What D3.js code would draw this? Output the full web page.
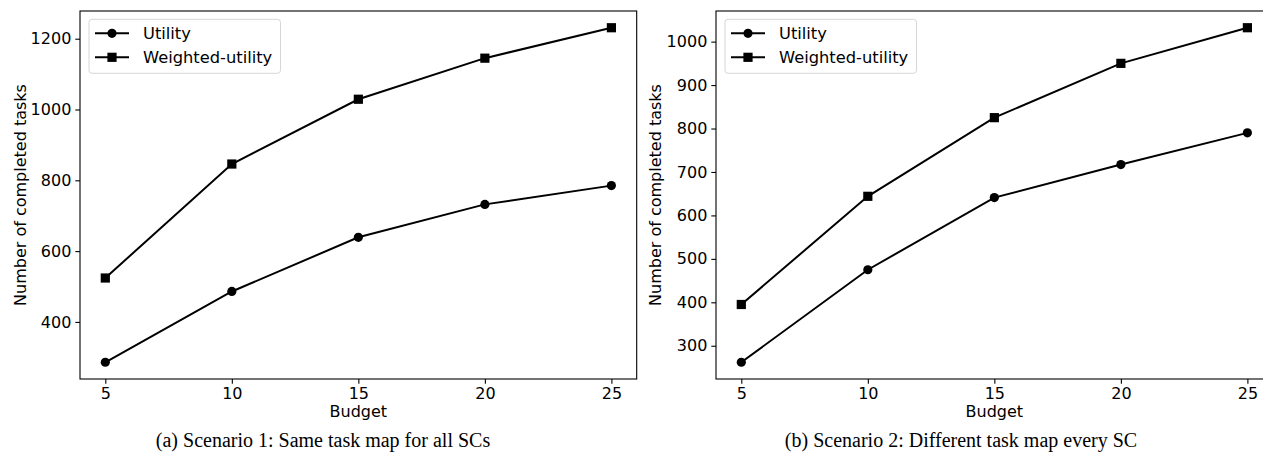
<!DOCTYPE html>
<html>
<head>
    <meta charset="utf-8">
    <title>completed-tasks</title>
    <style>
        body { margin: 0; background: #fff; }
        svg { display: block; overflow: hidden; }
        .tick text { font-family: "DejaVu Sans", sans-serif; font-size: 16px; fill: #000; }
    </style>
</head>
<body>

<main></main>

<script src="https://cdn.jsdelivr.net/npm/d3@7"></script>
<script>
    // data
    var budgets = [5, 10, 15, 20, 25];
    var seriesNames = ["Utility", "Weighted-utility"];
    var utilityA = [286, 486, 639, 732, 785];
    var weightedA = [524, 846, 1029, 1145, 1231];
    var utilityB = [262, 475, 641, 717, 790];
    var weightedB = [395, 644, 825, 950, 1032];
    var yTicksA = [400, 600, 800, 1000, 1200];
    var yTicksB = [300, 400, 500, 600, 700, 800, 900, 1000];
    var captions = ["(a) Scenario 1: Same task map for all SCs",
                    "(b) Scenario 2: Different task map every SC"];

    var width = 1263;
    var height = 456;
    var svg = d3.select("main")
        .append("svg")
        .attr("width", width)
        .attr("height", height);

    var panels = [
        {left: 80, series: [utilityA, weightedA], yTicks: yTicksA, caption: captions[0], capX: 323, labelX: 20},
        {left: 716, series: [utilityB, weightedB], yTicks: yTicksB, caption: captions[1], capX: 961, labelX: 655}
    ];
    var plotW = 556.7;
    var plotTop = 11, plotBottom = 379;
    var mr = 4.6; // marker half-size

    panels.forEach(function (p) {
        var g = svg.append("g");

        var x = d3.scaleLinear()
            .domain([4, 26])
            .range([p.left, p.left + plotW]);

        // matplotlib-like 5% margin
        var all = p.series[0].concat(p.series[1]);
        var lo = d3.min(all), hi = d3.max(all), pad = (hi - lo) * 0.05;
        var y = d3.scaleLinear()
            .domain([lo - pad, hi + pad])
            .range([plotBottom, plotTop]);

        // frame
        g.append("rect")
            .attr("x", p.left)
            .attr("y", plotTop)
            .attr("width", plotW)
            .attr("height", plotBottom - plotTop)
            .attr("fill", "none")
            .attr("stroke", "#000")
            .attr("stroke-width", 1.1);

        g.append("g")
            .attr("transform", "translate(0," + plotBottom + ")")
            .call(d3.axisBottom(x).tickValues(budgets).tickFormat(d3.format("d")).tickSize(4.7).tickPadding(4))
            .call(function (a) { a.select(".domain").remove(); });

        g.append("g")
            .attr("transform", "translate(" + p.left + ",0)")
            .call(d3.axisLeft(y).tickValues(p.yTicks).tickFormat(d3.format("d")).tickSize(4.7).tickPadding(4))
            .call(function (a) { a.select(".domain").remove(); });

        g.selectAll(".tick line").attr("stroke", "#000").attr("stroke-width", 1.1);

        // axis titles
        g.append("text")
            .attr("x", x(15))
            .attr("y", 417)
            .attr("text-anchor", "middle")
            .attr("font-family", "DejaVu Sans, sans-serif")
            .attr("font-size", 16)
            .text("Budget");

        g.append("text")
            .attr("transform", "translate(" + (p.labelX + 6) + "," + ((plotTop + plotBottom) / 2) + ") rotate(-90)")
            .attr("text-anchor", "middle")
            .attr("font-family", "DejaVu Sans, sans-serif")
            .attr("font-size", 16)
            .text("Number of completed tasks");

        // lines + markers
        var line = d3.line()
            .x(function (d, i) { return x(budgets[i]); })
            .y(function (d) { return y(d); });

        p.series.forEach(function (s, k) {
            g.append("path")
                .datum(s)
                .attr("d", line)
                .attr("fill", "none")
                .attr("stroke", "#000")
                .attr("stroke-width", 2);

            var m = g.selectAll(".m" + k)
                .data(s)
                .enter();
            if (k === 0) {
                m.append("circle")
                    .attr("cx", function (d, i) { return x(budgets[i]); })
                    .attr("cy", function (d) { return y(d); })
                    .attr("r", mr)
                    .attr("fill", "#000");
            } else {
                m.append("rect")
                    .attr("x", function (d, i) { return x(budgets[i]) - mr; })
                    .attr("y", function (d) { return y(d) - mr; })
                    .attr("width", mr * 2)
                    .attr("height", mr * 2)
                    .attr("fill", "#000");
            }
        });

        // legend
        var lx = p.left + 9;
        var legend = g.append("g");
        legend.append("rect")
            .attr("x", lx)
            .attr("y", 19.3)
            .attr("width", 191.5)
            .attr("height", 54)
            .attr("rx", 3)
            .attr("fill", "#fff")
            .attr("stroke", "#d6d6d6")
            .attr("stroke-width", 1);

        seriesNames.forEach(function (name, k) {
            var ly = 33.3 + k * 24;
            legend.append("line")
                .attr("x1", lx + 6)
                .attr("x2", lx + 40)
                .attr("y1", ly)
                .attr("y2", ly)
                .attr("stroke", "#000")
                .attr("stroke-width", 2);
            if (k === 0) {
                legend.append("circle")
                    .attr("cx", lx + 23)
                    .attr("cy", ly)
                    .attr("r", mr)
                    .attr("fill", "#000");
            } else {
                legend.append("rect")
                    .attr("x", lx + 23 - mr)
                    .attr("y", ly - mr)
                    .attr("width", mr * 2)
                    .attr("height", mr * 2)
                    .attr("fill", "#000");
            }
            legend.append("text")
                .attr("x", lx + 54)
                .attr("y", ly)
                .attr("dy", "0.35em")
                .attr("font-family", "DejaVu Sans, sans-serif")
                .attr("font-size", 16.3)
                .text(name);
        });

        // caption
        svg.append("text")
            .attr("x", p.capX)
            .attr("y", 447)
            .attr("text-anchor", "middle")
            .attr("font-family", "Liberation Serif, Times New Roman, serif")
            .attr("font-size", 20)
            .text(p.caption);
    });
</script>
</body>
</html>
